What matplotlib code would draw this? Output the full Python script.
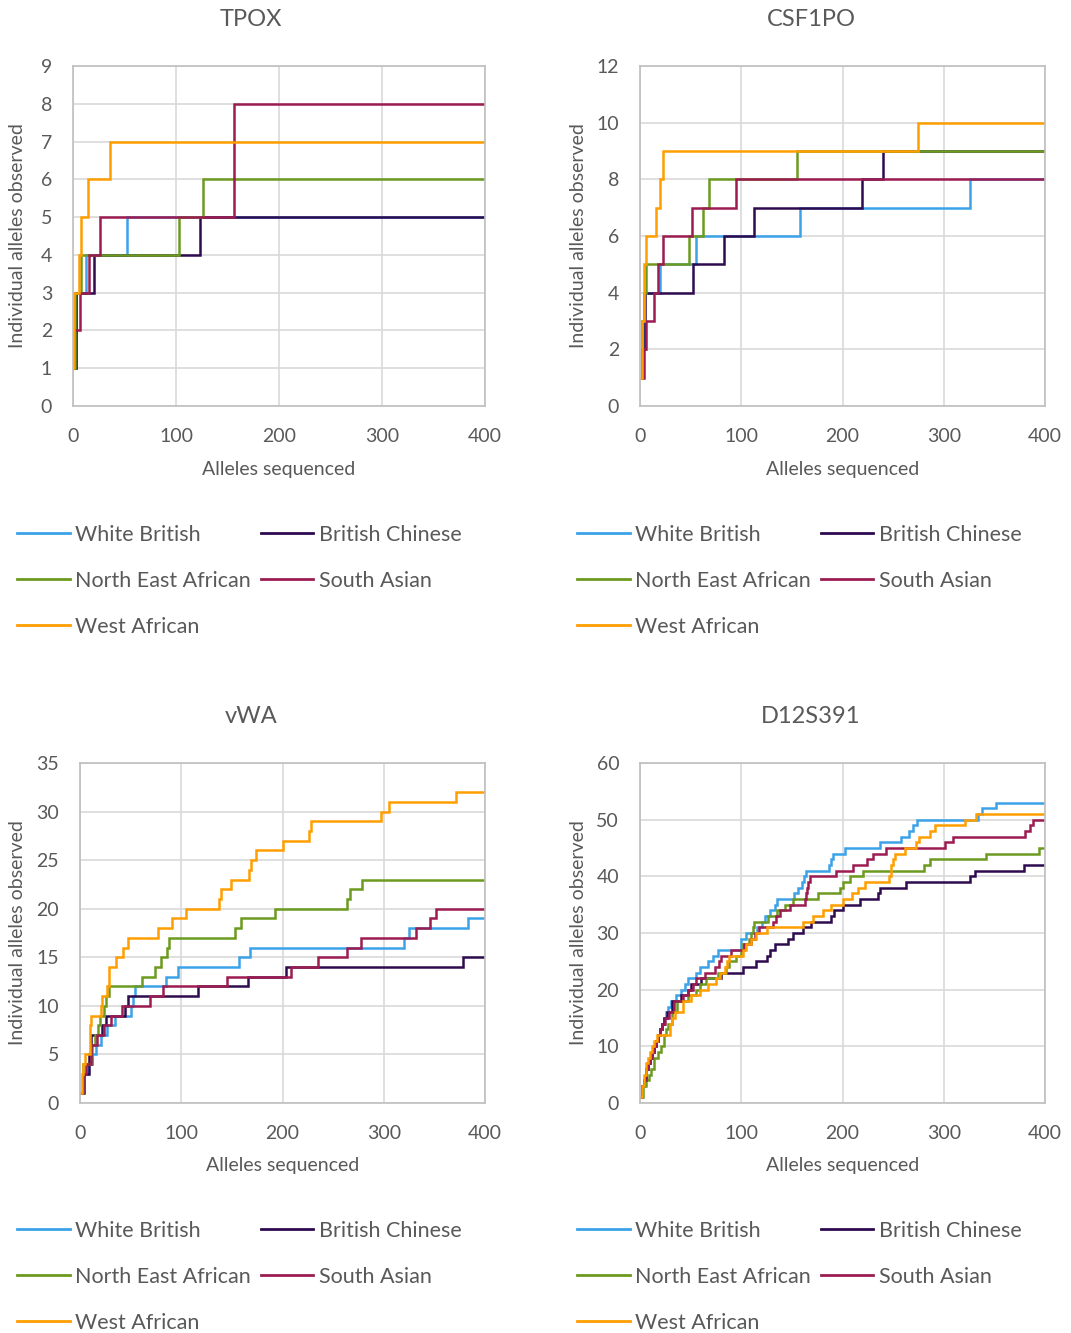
import matplotlib.pyplot as plt
from matplotlib.lines import Line2D

plt.rcParams['font.family'] = ['Lato', 'DejaVu Sans']

W, H = 1071, 1333

groups = ['White British', 'British Chinese', 'North East African', 'South Asian', 'West African']
colors = ['#3CA2E8', '#2E0A4F', '#6B9A1F', '#9C1C52', '#FF9E00']
text_col = '#595959'

# each series: (alleles sequenced, individual alleles observed) at the points where the count steps up
tpox_wb = [(0, 1), (3, 3), (13, 4), (52, 5), (400, 5)]
tpox_bc = [(0, 1), (3, 3), (20, 4), (123, 5), (400, 5)]
tpox_nea = [(0, 1), (2, 3), (8, 4), (103, 5), (126, 6), (400, 6)]
tpox_sa = [(0, 1), (1, 2), (7, 3), (16, 4), (26, 5), (156, 8), (400, 8)]
tpox_wa = [(0, 1), (1, 3), (6, 4), (8, 5), (15, 6), (36, 7), (400, 7)]

csf_wb = [(0, 1), (2, 2), (4, 4), (20, 5), (55, 6), (158, 7), (326, 8), (400, 8)]
csf_bc = [(0, 1), (2, 2), (5, 4), (52, 5), (83, 6), (113, 7), (219, 8), (240, 9), (400, 9)]
csf_nea = [(0, 1), (2, 3), (4, 4), (6, 5), (48, 6), (62, 7), (68, 8), (155, 9), (400, 9)]
csf_sa = [(0, 1), (4, 2), (6, 3), (14, 4), (18, 5), (23, 6), (51, 7), (95, 8), (400, 8)]
csf_wa = [(0, 1), (2, 3), (4, 5), (6, 6), (16, 7), (20, 8), (23, 9), (275, 10), (400, 10)]

vwa_wb = [(0, 1), (3, 3), (8, 4), (12, 5), (16, 6), (21, 7), (27, 8), (35, 9), (50, 10), (52, 11),
          (54, 12), (85, 13), (97, 14), (157, 15), (168, 16), (320, 17), (325, 18), (383, 19), (400, 19)]
vwa_bc = [(0, 1), (4, 3), (9, 5), (11, 7), (22, 8), (26, 9), (44, 10), (47, 11), (117, 12),
          (166, 13), (203, 14), (378, 15), (400, 15)]
vwa_nea = [(0, 1), (3, 4), (12, 6), (15, 7), (18, 8), (20, 9), (24, 10), (26, 11), (29, 12), (61, 13),
           (74, 14), (80, 15), (86, 16), (88, 17), (153, 18), (159, 19), (193, 20), (264, 21), (267, 22),
           (279, 23), (400, 23)]
vwa_sa = [(0, 1), (3, 3), (6, 4), (11, 6), (17, 7), (24, 8), (31, 9), (41, 10), (69, 11), (82, 12),
          (145, 13), (208, 14), (235, 15), (264, 16), (278, 17), (332, 18), (346, 19), (352, 20), (400, 20)]
vwa_wa = [(0, 1), (2, 3), (3, 4), (5, 5), (10, 8), (11, 9), (21, 10), (22, 11), (27, 12), (29, 14),
          (36, 15), (42, 16), (47, 17), (77, 18), (91, 19), (105, 20), (137, 21), (139, 22), (149, 23),
          (167, 24), (169, 25), (174, 26), (200, 27), (226, 28), (228, 29), (297, 30), (305, 31),
          (371, 32), (400, 32)]

d12_wb = [(0, 1), (2, 3), (4, 4), (6, 6), (8, 7), (10, 8), (12, 9), (14, 10), (16, 11), (18, 12),
          (20, 13), (22, 14), (24, 15), (26, 16), (28, 17), (31, 18), (36, 19), (40, 20), (44, 21),
          (47, 22), (55, 23), (59, 24), (67, 25), (72, 26), (77, 27), (100, 29), (105, 30), (116, 31),
          (120, 32), (123, 33), (128, 34), (133, 35), (135, 36), (152, 37), (156, 38), (160, 39),
          (162, 40), (164, 41), (187, 42), (189, 43), (191, 44), (202, 45), (237, 46), (258, 47),
          (266, 48), (270, 49), (274, 50), (334, 51), (338, 52), (352, 53), (400, 53)]
d12_bc = [(0, 1), (2, 3), (4, 4), (6, 6), (8, 7), (10, 8), (12, 9), (14, 10), (16, 11), (18, 12),
          (20, 13), (22, 14), (24, 15), (27, 16), (32, 18), (40, 19), (47, 20), (50, 21), (60, 22),
          (80, 23), (102, 24), (115, 25), (125, 26), (128, 27), (133, 28), (146, 29), (151, 30),
          (161, 31), (169, 32), (189, 33), (192, 34), (200, 35), (217, 36), (235, 37), (237, 38),
          (263, 39), (326, 40), (331, 41), (379, 42), (400, 42)]
d12_nea = [(0, 1), (3, 3), (6, 4), (9, 5), (11, 6), (14, 8), (18, 9), (21, 10), (24, 12), (26, 13),
           (28, 14), (32, 16), (37, 18), (47, 19), (55, 20), (59, 21), (65, 22), (77, 23), (85, 24),
           (88, 25), (95, 26), (100, 27), (102, 28), (108, 29), (110, 30), (112, 31), (113, 32),
           (126, 33), (135, 34), (143, 35), (151, 36), (176, 37), (198, 38), (200, 39), (207, 40),
           (220, 41), (280, 42), (286, 43), (342, 44), (394, 45), (400, 45)]
d12_sa = [(0, 1), (2, 3), (4, 4), (6, 6), (8, 7), (10, 8), (12, 9), (14, 10), (16, 11), (18, 12),
          (20, 13), (22, 14), (25, 15), (29, 16), (34, 18), (42, 19), (47, 20), (52, 21), (55, 22),
          (64, 23), (74, 24), (78, 25), (80, 26), (90, 27), (103, 28), (110, 29), (114, 30), (118, 31),
          (131, 32), (134, 33), (138, 34), (148, 35), (163, 36), (164, 37), (165, 38), (166, 39),
          (168, 40), (194, 41), (210, 42), (224, 43), (230, 44), (243, 45), (301, 46), (309, 47),
          (380, 48), (385, 49), (388, 50), (400, 50)]
d12_wa = [(0, 1), (2, 3), (4, 5), (6, 7), (8, 8), (10, 9), (12, 10), (14, 11), (17, 12), (30, 14),
          (32, 15), (35, 16), (42, 18), (50, 19), (59, 20), (67, 21), (75, 22), (79, 23), (84, 24),
          (86, 25), (88, 26), (102, 27), (105, 28), (110, 29), (115, 30), (125, 31), (161, 32),
          (171, 33), (181, 34), (189, 35), (200, 36), (209, 37), (215, 38), (222, 39), (246, 40),
          (248, 42), (250, 43), (252, 44), (262, 45), (273, 46), (276, 47), (286, 48), (291, 49),
          (321, 50), (332, 51), (400, 51)]

# title, series, y max, y step, plot box in px (left, top, right, bottom), title x px, ylabel x px, legend (x, top) px
panels = [
    ('TPOX', [tpox_wb, tpox_bc, tpox_nea, tpox_sa, tpox_wa], 9, 1, (73, 66, 485, 406), 251, 18, (17, 525)),
    ('CSF1PO', [csf_wb, csf_bc, csf_nea, csf_sa, csf_wa], 12, 2, (640, 66, 1045, 406), 811, 578, (577, 525)),
    ('vWA', [vwa_wb, vwa_bc, vwa_nea, vwa_sa, vwa_wa], 35, 5, (80, 763, 485, 1103), 251, 18, (17, 1221)),
    ('D12S391', [d12_wb, d12_bc, d12_nea, d12_sa, d12_wa], 60, 10, (640, 763, 1045, 1103), 811, 578, (577, 1221)),
]

fig = plt.figure(figsize=(W / 100, H / 100), dpi=100)

for title, series, ymax, ystep, box, tx, ylx, leg in panels:
    l, t, r, b = box
    ax = fig.add_axes([l / W, 1 - b / H, (r - l) / W, (b - t) / H])
    for s, c in zip(series, colors):
        xs = [p[0] for p in s]
        ys = [p[1] for p in s]
        ax.plot(xs, ys, drawstyle='steps-post', color=c, lw=1.8, solid_joinstyle='miter')
    ax.set_xlim(0, 400)
    ax.set_ylim(0, ymax)
    ax.set_xticks(range(0, 401, 100))
    ax.set_yticks(range(0, ymax + 1, ystep))
    ax.grid(color='#D9D9D9', lw=1.2)
    ax.set_axisbelow(True)
    for sp in ax.spines.values():
        sp.set_color('#BFBFBF')
        sp.set_linewidth(1.2)
    ax.tick_params(length=0, colors=text_col)
    ax.tick_params(axis='x', labelsize=14, pad=16)
    ax.tick_params(axis='y', labelsize=14, pad=15)
    ax.set_title(title, x=(tx - l) / (r - l), pad=28.5, fontsize=17, color=text_col)
    ax.set_xlabel('Alleles sequenced', fontsize=14, color=text_col, labelpad=11)
    ax.set_ylabel('Individual alleles observed', fontsize=14, color=text_col, va='center')
    ax.yaxis.set_label_coords((ylx - l) / (r - l), 0.5)

    order = [0, 2, 4, 1, 3]
    handles = [Line2D([], [], color=colors[i], lw=2) for i in order]
    labels = [groups[i] for i in order]
    fig.legend(handles, labels, loc='upper left', bbox_to_anchor=(leg[0] / W, 1 - leg[1] / H),
               ncol=2, frameon=False, fontsize=15.5, labelcolor=text_col, handlelength=2.45,
               handletextpad=0.25, columnspacing=0.45, labelspacing=1.2, borderpad=0, borderaxespad=0)

fig.savefig('out.png', dpi=100)
